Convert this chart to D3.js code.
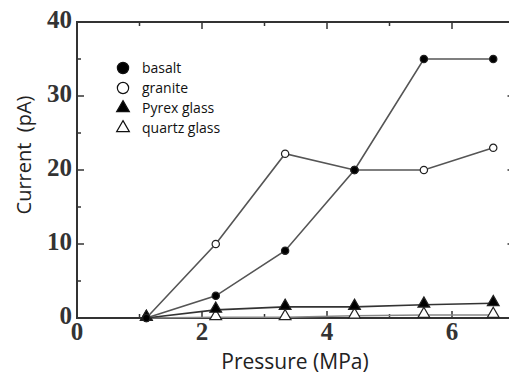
<!DOCTYPE html>
<html>
<head>
<meta charset="utf-8">
<script src="https://cdn.jsdelivr.net/npm/d3@7"></script>
<style>
  html, body { margin: 0; padding: 0; background: #fff; }
  svg { display: block; }
</style>
</head>
<body>
<script>
const pressure = [1.11, 2.22, 3.33, 4.44, 5.55, 6.66];
const basalt = [0, 3, 9.1, 20, 35, 35];
const granite = [0, 10, 22.2, 20, 20, 23];
const pyrex = [0, 1.1, 1.5, 1.5, 1.8, 2.0];
const quartz = [0, 0.1, 0.1, 0.3, 0.4, 0.4];
const seriesNames = ["basalt", "granite", "Pyrex glass", "quartz glass"];
const xTicks = [0, 2, 4, 6];
const yTicks = [0, 10, 20, 30, 40];

const W = 509, H = 380;
const m = { left: 77, top: 22 };
const x = d3.scaleLinear().domain([0, 7]).range([m.left, m.left + 62.5 * 7]);
const y = d3.scaleLinear().domain([0, 40]).range([318, 22]);

const svg = d3.select("body").append("svg").attr("width", W).attr("height", H);

const axisColor = "#333";
const lineColor = "#555";

// inward ticks on all four sides
const tickG = svg.append("g").attr("stroke", axisColor);
const minorX = d3.range(1, 7, 1);
const minorY = d3.range(5, 40, 5);
minorX.forEach((v) => {
  const len = v % 2 === 0 ? 7 : 4;
  tickG.append("line").attr("x1", x(v)).attr("x2", x(v)).attr("y1", y(0)).attr("y2", y(0) - len).attr("stroke-width", 1.5);
  tickG.append("line").attr("x1", x(v)).attr("x2", x(v)).attr("y1", y(40)).attr("y2", y(40) + len).attr("stroke-width", 1.5);
});
minorY.forEach((v) => {
  const len = v % 10 === 0 ? 7 : 4;
  tickG.append("line").attr("x1", x(0)).attr("x2", x(0) + len).attr("y1", y(v)).attr("y2", y(v)).attr("stroke-width", 1.5);
  tickG.append("line").attr("x1", x(7)).attr("x2", x(7) - len).attr("y1", y(v)).attr("y2", y(v)).attr("stroke-width", 1.5);
});

// frame
svg.append("rect")
  .attr("x", x(0)).attr("y", y(40))
  .attr("width", x(7) - x(0)).attr("height", y(0) - y(40))
  .attr("fill", "none").attr("stroke", axisColor).attr("stroke-width", 2);

// tick labels
const numFont = "'Liberation Serif', 'DejaVu Serif', serif";
svg.append("g").selectAll("text").data(yTicks).join("text")
  .attr("x", x(0) - 5).attr("y", (d) => y(d) + 6)
  .attr("text-anchor", "end")
  .attr("font-family", numFont).attr("font-size", 25).attr("font-weight", "bold")
  .attr("fill", "#333")
  .text((d) => d);
svg.append("g").selectAll("text").data(xTicks).join("text")
  .attr("x", (d) => x(d)).attr("y", 340)
  .attr("text-anchor", "middle")
  .attr("font-family", numFont).attr("font-size", 25).attr("font-weight", "bold")
  .attr("fill", "#333")
  .text((d) => d);

// axis titles
const labFont = "'Open Sans', 'Noto Sans', sans-serif";
svg.append("text")
  .attr("x", 295).attr("y", 369)
  .attr("text-anchor", "middle")
  .attr("font-family", labFont).attr("font-size", 21).attr("fill", "#222")
  .text("Pressure (MPa)");
svg.append("text")
  .attr("transform", "translate(31,155) rotate(-90)")
  .attr("text-anchor", "middle")
  .attr("font-family", labFont).attr("font-size", 20).attr("fill", "#222")
  .attr("xml:space", "preserve")
  .style("white-space", "pre")
  .text("Current  (pA)");

// series
const line = d3.line().x((d) => x(d[0])).y((d) => y(d[1]));
const allSeries = [
  { name: seriesNames[3], vals: quartz, shape: "tri", fill: "#fff", stroke: "#888" },
  { name: seriesNames[2], vals: pyrex, shape: "tri", fill: "#000", stroke: "#333" },
  { name: seriesNames[1], vals: granite, shape: "circle", fill: "#fff", stroke: lineColor },
  { name: seriesNames[0], vals: basalt, shape: "circle", fill: "#000", stroke: lineColor },
];

const triSym = d3.symbol().type(d3.symbolTriangle).size(60);
const circSym = d3.symbol().type(d3.symbolCircle).size(42);

allSeries.forEach((s) => {
  const pts = pressure.map((p, i) => [p, s.vals[i]]);
  svg.append("path").datum(pts)
    .attr("d", line)
    .attr("fill", "none").attr("stroke", s.stroke).attr("stroke-width", 1.6);
  svg.append("g").selectAll("path").data(pts).join("path")
    .attr("transform", (d) => `translate(${x(d[0])},${y(d[1]) - (s.shape === "tri" ? 1 : 0)})`)
    .attr("d", s.shape === "tri" ? triSym : circSym)
    .attr("fill", s.fill).attr("stroke", "#222").attr("stroke-width", 1.2);
});

// legend
const legend = svg.append("g").attr("transform", "translate(123,68)");
const legendItems = [
  { name: seriesNames[0], shape: "circle", fill: "#000" },
  { name: seriesNames[1], shape: "circle", fill: "#fff" },
  { name: seriesNames[2], shape: "tri", fill: "#000" },
  { name: seriesNames[3], shape: "tri", fill: "#fff" },
];
legendItems.forEach((d, i) => {
  const g = legend.append("g").attr("transform", `translate(0,${i * 20})`);
  g.append("path")
    .attr("d", d.shape === "tri" ? d3.symbol().type(d3.symbolTriangle).size(70)() : d3.symbol().type(d3.symbolCircle).size(100)())
    .attr("fill", d.fill).attr("stroke", "#111").attr("stroke-width", 1.2);
  g.append("text")
    .attr("x", 19).attr("y", 5)
    .attr("font-family", labFont).attr("font-size", 14).attr("fill", "#111")
    .text(d.name);
});
</script>
</body>
</html>
